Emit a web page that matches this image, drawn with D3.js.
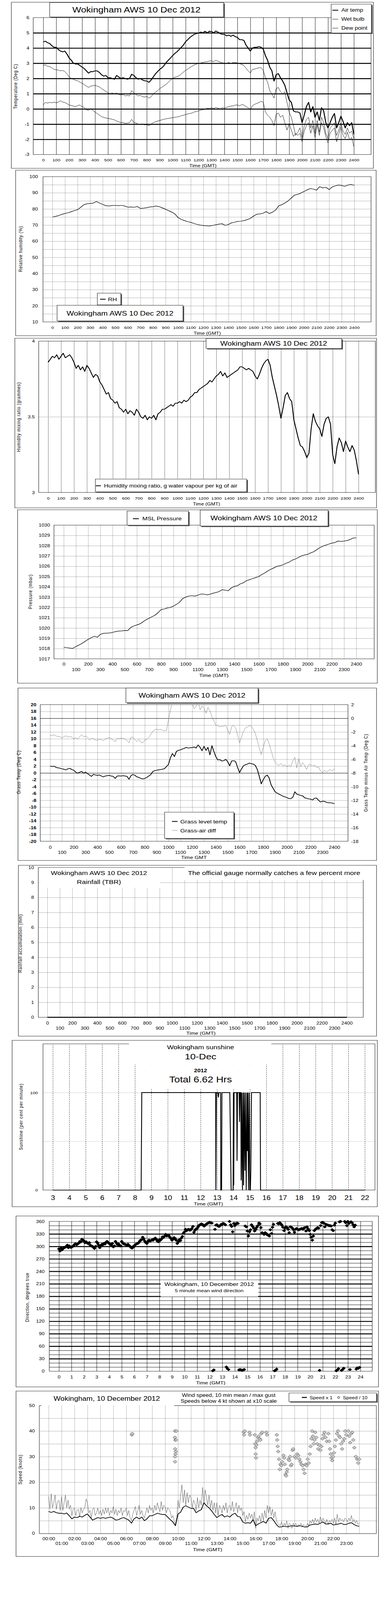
<!DOCTYPE html>
<html><head><meta charset="utf-8">
<script src="https://cdn.jsdelivr.net/npm/d3@7"></script>
<style>html,body{margin:0;padding:0;background:#fff;overflow:hidden}svg{display:block}</style>
</head><body>
<svg id="c"></svg>
<script>
// ---------------- DATA ----------------
const hhmmTicks=[0,100,200,300,400,500,600,700,800,900,1000,1100,1200,1300,1400,1500,1600,1700,1800,1900,2000,2100,2200,2300,2400];
const hourTicks=[0,1,2,3,4,5,6,7,8,9,10,11,12,13,14,15,16,17,18,19,20,21,22,23,24];
const hourLabels=["00:00","01:00","02:00","03:00","04:00","05:00","06:00","07:00","08:00","09:00","10:00","11:00","12:00","13:00","14:00","15:00","16:00","17:00","18:00","19:00","20:00","21:00","22:00","23:00"];
const sunHourTicks=[3,4,5,6,7,8,9,10,11,12,13,14,15,16,17,18,19,20,21,22];
const tempTicks=[-3,-2,-1,0,1,2,3,4,5,6];
const rhTicks=[10,20,30,40,50,60,70,80,90,100];
const mixTicks=[3,3.5,4];
const presTicks=[1017,1018,1019,1020,1021,1022,1023,1024,1025,1026,1027,1028,1029,1030];
const grassTicks=[-20,-18,-16,-14,-12,-10,-8,-6,-4,-2,0,2,4,6,8,10,12,14,16,18,20];
const diffTicks=[-18,-16,-14,-12,-10,-8,-6,-4,-2,0,2];
const rainTicks=[0,1,2,3,4,5,6,7,8,9,10];
const sunPctTicks=[0,100];
const dirTicks=[0,30,60,90,120,150,180,210,240,270,300,330,360];
const speedTicks=[0,10,20,30,40,50];

// 10-minute samples 00:00..24:00
const airTemp=[4.4,4.45,4.35,4.3,4.15,4.05, 4.05,3.9,3.8,3.75,3.8,3.6, 3.35,3.2,3.0,2.95,2.95,2.85, 2.75,2.65,2.5,2.35,2.45,2.45,
 2.5,2.5,2.4,2.25,2.15,2.2, 2.05,2.05,2.0,1.95,2.2,2.1, 2.0,2.05,2.0,1.95,2.0,2.28, 2.2,2.05,1.95,2.0,1.9,1.85,
 1.83,1.75,1.9,2.1,2.3,2.45, 2.6,2.7,2.85,3.05,3.2,3.35, 3.5,3.65,3.75,3.9,4.05,4.2, 4.42,4.55,4.7,4.8,4.9,4.95,
 4.98,5.05,5.0,5.1,5.0,5.1, 5.09,5.0,5.12,5.05,4.95,4.9, 4.9,4.8,4.85,4.77,4.85,4.75, 4.7,4.55,4.55,4.5,4.2,4.0,
 3.8,4.0,4.05,4.05,4.1,4.05, 3.93,3.5,3.2,2.74,2.5,1.83, 2.25,2.32,2.04,1.83,1.55,1.06, 0.6,0.43,-0.13,-0.2,-0.2,-0.27,
 -0.9,-0.4,0.15,0.43,-0.2,0.15, -0.55,-0.2,-0.76,0.08,-0.13,-0.9, -1.25,-0.9,-0.55,-0.3,-1.25,-0.9, -0.48,-0.83,-1.25,-0.9,-1.1,-0.9, -1.67];
const wetBulb=[2.85,2.9,2.8,2.78,2.7,2.6, 2.57,2.55,2.5,2.53,2.45,2.3, 2.11,2.0,1.95,1.87,1.85,1.75, 1.69,1.6,1.5,1.41,1.5,1.52,
 1.55,1.5,1.45,1.34,1.25,1.15, 1.06,1.0,1.05,0.99,1.05,0.95, 0.92,0.95,0.85,0.89,0.85,1.2, 1.06,0.95,0.85,0.89,0.8,0.78,
 0.82,0.71,0.8,0.99,1.1,1.2, 1.34,1.42,1.52,1.62,1.75,1.9, 2.01,2.08,2.12,2.18,2.3,2.42, 2.53,2.62,2.72,2.81,2.88,2.95,
 2.99,3.02,3.05,3.09,3.1,3.15, 3.16,3.1,3.2,3.13,3.08,3.02, 3.02,3.0,3.05,2.99,3.05,3.05, 3.02,2.98,2.92,2.85,2.67,2.5,
 2.36,2.6,2.62,2.67,2.7,2.71, 2.53,2.04,1.76,1.2,0.99,0.71, 1.34,1.41,1.13,0.99,1.13,0.43, -0.2,-0.55,-1.1,-1.74,-1.53,-1.25,
 -1.88,-1.1,-0.69,-0.55,-1.25,-0.76, -1.6,-0.76,-1.53,-0.55,-0.9,-1.6, -1.95,-1.25,-1.1,-0.9,-1.74,-1.39, -0.9,-1.46,-1.67,-1.25,-1.6,-1.46, -1.95];
const dewPoint=[0.26,0.43,0.38,0.43,0.4,0.45, 0.4,0.45,0.54,0.45,0.42,0.35, 0.26,0.22,0.19,0.15,0.22,0.26, 0.15,0.1,-0.06,-0.09,0.01,-0.1,
 -0.2,-0.3,-0.4,-0.51,-0.55,-0.6, -0.62,-0.65,-0.68,-0.72,-0.8,-0.85, -0.9,-0.88,-0.95,-0.93,-0.9,-0.69, -0.9,-0.92,-1.0,-1.0,-0.98,-1.05,
 -1.04,-1.1,-1.0,-0.9,-0.85,-0.8, -0.76,-0.72,-0.68,-0.65,-0.62,-0.6, -0.58,-0.55,-0.53,-0.51,-0.45,-0.42, -0.37,-0.33,-0.3,-0.27,-0.2,-0.17,
 -0.13,-0.08,-0.05,-0.02,0.05,0.02, 0.08,0.02,0.1,0.05,0.0,0.08, 0.05,0.1,0.15,0.19,0.2,0.25, 0.26,0.2,0.28,0.26,0.15,0.08,
 -0.06,0.22,0.3,0.36,0.42,0.5, 0.43,-0.2,-0.41,-0.55,-0.76,-1.1, -0.34,-0.27,-0.55,-0.41,-0.9,-1.39, -0.97,-1.39,-1.81,-1.6,-1.74,-1.6,
 -2.16,-1.46,-1.1,-0.9,-1.6,-1.1, -1.88,-1.04,-1.74,-0.9,-1.25,-1.81, -2.23,-1.6,-1.39,-1.25,-2.16,-1.67, -1.18,-1.74,-1.95,-1.53,-2.02,-1.88, -2.47];
// 15-minute samples
const relHum=[75.0,75.4,75.9,76.6,77.2,77.6,78.3,79.0,79.5,81.0,82.6,83.2,83.4,83.6,84.6,83.6,82.8,82.0,81.8,82.1,82.2,82.0,82.2,81.8,
 81.1,81.2,81.0,81.5,80.3,80.5,80.8,81.2,81.4,81.8,81.4,80.6,79.8,78.9,78.0,76.8,74.6,73.5,72.8,72.1,71.7,71.0,70.4,70.0,
 69.7,69.5,69.4,69.8,70.2,70.6,70.8,69.8,70.4,71.4,71.8,72.3,72.4,72.8,73.4,74.2,75.6,76.7,76.9,77.3,78.4,77.1,78.0,79.3,
 82.0,82.6,83.8,85.0,86.8,88.6,89.0,89.8,90.8,91.8,92.6,92.3,91.6,93.8,93.0,93.4,92.0,93.6,94.3,94.8,94.5,94.0,94.8,95.1,94.6];
const mixRatio=[3.86,3.88,3.90,3.89,3.91,3.88, 3.90,3.92,3.89,3.90,3.91,3.89, 3.86,3.82,3.84,3.81,3.83,3.80, 3.84,3.82,3.79,3.76,3.78,3.77,
 3.73,3.71,3.68,3.65,3.66,3.62, 3.61,3.59,3.60,3.56,3.55,3.53, 3.55,3.52,3.54,3.53,3.51,3.55, 3.53,3.50,3.49,3.51,3.48,3.50,
 3.49,3.51,3.48,3.52,3.53,3.55, 3.55,3.56,3.57,3.58,3.57,3.59, 3.59,3.60,3.59,3.61,3.60,3.61, 3.63,3.64,3.66,3.66,3.68,3.69,
 3.70,3.71,3.72,3.74,3.73,3.75, 3.77,3.78,3.80,3.77,3.79,3.76, 3.77,3.78,3.79,3.80,3.81,3.83, 3.83,3.82,3.81,3.82,3.81,3.80,
 3.77,3.75,3.78,3.82,3.85,3.87, 3.88,3.84,3.76,3.70,3.64,3.57, 3.49,3.56,3.64,3.66,3.62,3.60, 3.48,3.42,3.36,3.31,3.30,3.27,
 3.23,3.26,3.42,3.52,3.47,3.44, 3.42,3.37,3.45,3.49,3.50,3.45, 3.25,3.19,3.30,3.36,3.33,3.27, 3.34,3.30,3.27,3.31,3.28,3.21, 3.12];
const mslPressure=[1018.12,1018.1,1018.05,1018.02,1018.2,1018.35,1018.5,1018.7,1018.9,1019.05,1019.2,1019.1,1019.37,1019.48,1019.5,1019.52,
 1019.57,1019.65,1019.7,1019.72,1019.76,1019.75,1020.05,1020.2,1020.3,1020.4,1020.6,1020.8,1020.95,1021.1,1021.25,1021.5,
 1021.8,1021.85,1021.95,1022.0,1022.13,1022.3,1022.5,1022.85,1023.0,1023.1,1023.15,1023.1,1023.19,1023.3,1023.3,1023.22,
 1023.28,1023.38,1023.45,1023.55,1023.72,1023.68,1023.62,1023.9,1024.05,1024.1,1024.3,1024.4,1024.6,1024.7,1024.8,1024.9,
 1025.0,1025.2,1025.35,1025.55,1025.7,1025.85,1026.0,1026.05,1026.15,1026.3,1026.4,1026.6,1026.7,1026.85,1027.0,1027.1,
 1027.15,1027.3,1027.4,1027.6,1027.8,1027.95,1028.05,1028.15,1028.25,1028.3,1028.45,1028.42,1028.45,1028.5,1028.6,1028.75,1028.76];
const grassTemp=[2.0,1.9,2.0,1.65,1.5,1.4, 1.2,1.1,0.9,1.2,1.35,1.0, 0.8,0.25,-0.05,0.2,0.45,-0.05, 0.25,-0.2,-0.6,-1.0,-0.4,-0.6,
 -0.7,-0.6,-0.9,-1.15,-0.9,-0.8, -0.7,-0.9,-1.0,-1.6,-0.9,-0.85, -0.9,-0.8,-0.9,-1.0,-1.85,-0.8, -0.45,-0.7,-1.15,-1.3,-1.6,-1.75,
 -1.6,-1.3,-0.9,-0.5,0.4,0.65, 0.8,0.9,1.0,1.1,1.3,1.9, 2.5,4.5,5.7,4.8,6.3,6.6, 6.75,7.0,7.2,7.5,7.3,7.4,
 7.4,7.6,7.3,8.2,7.5,6.5, 7.8,6.6,7.5,5.3,8.0,6.3, 4.75,3.8,3.9,3.5,3.6,4.0, 3.3,2.1,3.5,3.6,3.35,1.65,
 0.1,1.2,2.1,2.4,2.6,2.9, 2.7,2.6,2.2,1.0,-1.0,-3.2, -2.0,-1.0,-0.6,-1.5,-3.5,-4.5, -5.5,-5.9,-6.2,-6.5,-6.8,-7.0,
 -7.2,-7.5,-7.5,-7.1,-5.5,-6.2, -6.4,-6.6,-6.7,-7.3,-7.4,-7.6, -7.65,-7.9,-7.4,-7.35,-8.0,-8.5, -8.3,-8.3,-8.6,-8.7,-8.75,-8.8, -9.0];
const grassAirDiff=[-2.45,-2.55,-2.4,-2.6,-2.65,-2.7, -2.85,-2.7,-2.55,-2.75,-2.65,-2.75, -3.0,-2.85,-3.05,-2.7,-2.4,-2.7, -2.6,-2.8,-3.2,-2.9,-3.0,-3.15,
 -3.25,-3.05,-3.1,-3.3,-3.0,-2.9, -2.8,-3.0,-3.2,-3.45,-2.9,-3.0, -2.9,-2.95,-3.0,-3.25,-3.6,-2.8, -2.75,-3.1,-3.4,-3.1,-3.5,-3.6,
 -3.2,-3.1,-2.8,-2.4,-1.9,-1.7, -1.6,-1.7,-1.6,-1.75,-1.85,-1.75, -0.2,1.25,2.5,3.0,3.25,3.5, 3.5,3.5,3.5,3.5,3.0,2.5,
 2.25,1.4,1.75,2.5,1.25,1.8, 1.5,0.75,1.6,1.1,0.25,-0.4, -1.0,-1.1,-1.25,-1.15,-1.2,-1.0, -1.75,-2.35,-1.2,-1.05,-1.4,-2.4,
 -3.6,-2.75,-1.9,-1.4,-1.25,-1.05, -1.2,-1.6,-2.25,-3.25,-4.4,-5.3, -4.25,-3.25,-3.0,-3.75,-4.75,-5.75, -6.4,-6.75,-6.9,-6.6,-7.0,-6.8,
 -7.1,-6.9,-7.05,-6.25,-5.7,-7.25, -5.9,-7.1,-6.5,-6.9,-7.5,-6.8, -6.75,-7.0,-6.85,-7.2,-7.1,-7.7, -7.95,-7.6,-7.85,-7.7,-7.5,-7.75, -7.35];
const rainAccum=[0,0];
const rainHour=[0,24];
const sunHour=[3,8.38,8.42,12.92,12.93,12.96,13.05,13.08,13.12,13.22,13.23,13.28,13.30,13.78,13.80,13.86,13.98,14.0,14.02,14.04,14.20,14.22,14.25,14.35,14.37,14.40,14.45,14.47,14.50,14.55,14.58,14.62,14.65,14.70,14.73,14.78,14.82,14.85,14.88,14.92,14.96,15.0,15.03,15.06,15.1,15.63,15.65,22];
const sunPct=[0,0,100,100,0,100,100,95,100,100,0,0,100,100,75,0,0,100,5,100,100,30,100,100,70,100,100,10,100,0,100,5,100,20,100,0,100,40,100,0,100,0,0,20,100,100,0,0];
const windDir=[[0.00,294],[0.08,289],[0.17,296],[0.25,292],[0.33,295],[0.42,297],[0.5,298],[0.58,300],[0.67,303],[0.75,297],[0.83,301],[0.92,298],
[1.0,298],[1.08,300],[1.17,301],[1.25,305],[1.33,306],[1.42,304],[1.5,306],[1.58,308],[1.67,312],[1.75,311],[1.83,317],[1.92,315],
[2.0,313],[2.08,309],[2.17,311],[2.25,308],[2.33,307],[2.42,309],[2.5,303],[2.58,301],[2.67,300],[2.75,298],[2.83,295],[2.92,300],
[3.0,311],[3.08,308],[3.17,303],[3.25,297],[3.33,302],[3.42,305],[3.5,304],[3.58,307],[3.67,306],[3.75,310],[3.83,312],[3.92,309],
[4.0,307],[4.08,305],[4.17,303],[4.25,307],[4.33,299],[4.42,301],[4.5,312],[4.58,308],[4.67,304],[4.75,306],[4.83,302],[4.92,301],
[5.0,312],[5.08,308],[5.17,306],[5.25,305],[5.33,304],[5.42,303],[5.5,305],[5.58,302],[5.67,300],[5.75,297],[5.83,296],[5.92,300],
[6.0,300],[6.08,304],[6.17,306],[6.25,307],[6.33,308],[6.42,312],[6.5,315],[6.58,316],[6.67,322],[6.75,318],[6.83,313],[6.92,309],
[7.0,307],[7.08,311],[7.17,315],[7.25,313],[7.33,314],[7.42,316],[7.5,315],[7.58,318],[7.67,320],[7.75,317],[7.83,313],[7.92,311],
[8.0,316],[8.08,315],[8.17,318],[8.25,323],[8.33,322],[8.42,325],[8.5,329],[8.58,325],[8.67,327],[8.75,326],[8.83,322],[8.92,319],
[9.0,315],[9.08,317],[9.17,321],[9.25,319],[9.33,315],[9.42,307],[9.5,311],[9.58,316],[9.67,314],[9.75,320],[9.83,324],[9.92,332],
[10.0,335],[10.08,341],[10.17,338],[10.25,340],[10.33,341],[10.42,339],[10.5,340],[10.58,343],[10.67,348],[10.75,334],[10.83,339],[10.92,342],
[11.0,343],[11.08,347],[11.17,351],[11.25,352],[11.33,354],[11.42,353],[11.5,350],[11.58,349],[11.67,352],[11.75,354],[11.83,355],[11.92,357],
[12.0,358],[12.08,357],[12.17,356],[12.25,1],[12.33,3],[12.42,341],[12.5,351],[12.58,352],[12.67,349],[12.75,348],[12.83,350],[12.92,353],
[13.0,353],[13.08,355],[13.17,354],[13.25,352],[13.33,10],[13.42,6],[13.5,4],[13.58,360],[13.67,352],[13.75,348],[13.83,335],[13.92,355],
[14.0,350],[14.08,353],[14.17,356],[14.25,355],[14.33,3],[14.42,4],[14.5,3],[14.58,2],[14.67,3],[14.75,4],[14.83,349],[14.92,347],
[15.0,337],[15.08,325],[15.17,335],[15.25,340],[15.33,352],[15.42,348],[15.5,344],[15.58,337],[15.67,341],[15.75,346],[15.83,350],[15.92,356],
[16.0,354],[16.08,345],[16.17,333],[16.25,331],[16.33,329],[16.42,333],[16.5,331],[16.58,328],[16.67,327],[16.75,325],[16.83,340],[16.92,331],
[17.0,346],[17.08,353],[17.17,1],[17.25,2],[17.33,5],[17.42,355],[17.5,354],[17.58,357],[17.67,354],[17.75,351],[17.83,346],[17.92,338],
[18.0,344],[18.08,347],[18.17,345],[18.25,341],[18.33,333],[18.42,347],[18.5,346],[18.58,344],[18.67,340],[18.75,334],[18.83,341],[18.92,343],
[19.0,341],[19.08,340],[19.17,341],[19.25,342],[19.33,343],[19.42,341],[19.5,344],[19.58,345],[19.67,337],[19.75,347],[19.83,342],[19.92,338],
[20.0,329],[20.08,322],[20.17,315],[20.25,325],[20.33,338],[20.42,341],[20.5,343],[20.58,345],[20.67,344],[20.75,2],[20.83,350],[20.92,357],
[21.0,358],[21.08,356],[21.17,347],[21.25,353],[21.33,352],[21.42,351],[21.5,350],[21.58,350],[21.67,349],[21.75,340],[21.83,338],[21.92,351],
[22.0,356],[22.08,1],[22.17,3],[22.25,6],[22.33,359],[22.42,360],[22.5,2],[22.58,4],[22.67,7],[22.75,360],[22.83,357],[22.92,350],
[23.0,360],[23.08,355],[23.17,4],[23.25,359],[23.33,357],[23.42,352],[23.5,347],[23.58,351],[23.67,5],[23.75,8],[23.83,7],[23.92,9]];
// 12-minute mean speed
const windMean=[8.6,8.2,8.6,8.1,7.9,7.9,7.6,8.0,6.9,5.7,6.4,6.2,6.7,6.4,7.1,7.6,6.4,5.2,5.7,6.2,5.9,6.2,5.9,6.2,6.4,
 5.9,5.2,5.4,5.9,6.2,5.7,5.2,4.0,5.7,6.4,5.7,6.4,5.0,5.7,6.9,6.9,7.4,7.9,7.6,7.4,7.4,6.4,5.4,4.5,3.0,
 7.6,8.3,10.3,10.8,10.3,9.8,9.8,8.1,8.8,9.3,12.0,10.8,10.0,8.8,7.4,6.2,6.9,7.4,6.4,6.9,6.4,7.4,7.9,6.7,6.4,
 4.5,4.0,4.2,4.0,5.4,3.0,3.7,4.2,4.7,4.0,5.9,6.2,5.0,3.5,2.5,2.6,2.8,2.6,2.8,3.0,2.9,2.8,3.0,2.8,2.5,
 2.6,3.3,3.5,3.7,3.5,4.0,4.5,3.7,3.7,4.0,3.3,3.5,3.7,4.0,3.5,3.5,4.0,4.2,3.5,3.0,2.8];
// 6-minute max gust
const windGust=[14.5,9.5,15.5,10,12,15,9.5,12.5,13,9, 14.5,9,12,15,10,13,9.5,11,7,9.5, 10,7,9,9.5,6.5,10,8,9.5,10,13.5,
 12,8,9,6,9.5,10,7,8,10,7.5, 9,7,9.5,7.5,10,8,10,7,9,8, 10.5,7.5,9.5,7,9,8,10,7,9,8.5,
 10,7,9,6,5,7.5,9,10.5,7,9, 11,7.5,9,7,6,8,10,8,11,9, 10,8,11,9,12,10,8.5,12.5,9,11,
 10.5,8,10,9.5,8.5,6,7,5,3.5,6, 13,10,15,19,12,17,11,16,12,15, 14,10,13,12,9,14,10,13,11,18,
 12,17,14,11,15,10,13,9,12,8, 12,7,11,10,8,11,9,12,8,10.5, 11,9,12.5,8.5,10,12,8,11,9,10,
 7,8.5,4.5,7,5.5,8,6,7.5,5,8.5, 2,6,5,7,4.5,8,5,9,6,11, 8,10.5,7,9.5,6,8.5,5,4,3.5,3,
 4.5,2.5,4,3,5,2,4,3.5,2,4, 3,4,2.5,3.5,3,4,2.5,3.5,3,2.5, 4,3,5,4,5.5,4,6,4.5,5.5,4,
 6.5,4.5,6,5,4,5.5,3.5,5,4.5,5.5, 4,6,3.5,7.5,4.5,6,5,5.5,4.5,6, 5.5,4.5,6,5,7,4.5,5.5,4,5,3.5, 4];
// speeds below 4 kt shown x10
const lowSpeedX10=[[6.43,38.5],[6.46,39],
[9.77,40],[9.76,37.5],[9.8,36.5],[9.78,33],[9.8,31],[9.77,30],[9.77,28],[9.88,40],[9.85,36.5],[9.83,32],
[15.07,39.5],[15.1,38.5],[15.15,40],[15.52,39.5],[15.56,38.5],
[15.93,38.5],[15.96,35],[15.99,33.5],[16.0,31],[16.02,29.5],[16.05,34.5],[16.1,36],[16.18,37.5],[16.24,38],[16.3,37],[16.37,36.5],[16.43,39],[16.5,39.5],
[16.82,39.5],[16.88,38.5],
[17.63,38.5],[17.66,36.5],[17.7,34],[17.74,32],[17.8,29],[17.86,25],[17.92,27],[17.98,26.5],[18.04,28],
[18.15,30.5],[18.2,29.5],[18.25,27],[18.3,23],[18.35,22.5],[18.4,24],[18.44,25],
[18.54,29],[18.6,28.5],[18.66,30],[18.72,26.5],[18.78,27],[18.85,32.5],[18.9,33],
[19.0,30],[19.1,29.5],[19.2,31],[19.3,30.5],[19.38,29],
[19.45,28],[19.53,27],[19.62,26.5],[19.7,25],[19.78,23.5],[19.86,27],[19.94,26.5],[20.02,29],[20.1,27.5],
[20.18,31],[20.24,34],[20.3,37],[20.36,40],[20.42,38],[20.48,35],[20.54,36.5],
[20.6,39.5],[20.68,37.5],[20.76,35],[20.84,33],[20.92,34.5],[21.0,32.5],[21.08,34],
[21.16,37],[21.24,38.5],[21.32,39.5],[21.4,37.5],[21.5,36],
[21.62,39],[21.68,36],[21.74,33],[21.8,31],[21.86,29.5],[21.92,28.5],[21.98,30],[22.05,31.5],
[22.12,34],[22.2,36.5],[22.28,39],[22.36,40],[22.44,38],[22.52,37.5],
[22.6,35],[22.68,33],[22.76,36],[22.84,37],[22.92,40],[23.0,38.5],
[23.16,40],[23.23,38],[23.3,35.5],[23.38,39],[23.46,39.5],[23.54,36.5],[23.62,33.5],
[23.74,30],[23.84,29],[23.92,27.5],[24.0,29]];

// ---------------- DRAWING ----------------
// The chart is laid out on a 1000x5000 canvas; the browser viewport may be shorter,
// so the drawing is fitted to the available height.
const FONT='"Liberation Sans", Arial, Helvetica, sans-serif';
const VIEW_H=Math.min(5000, window.innerHeight||5000);
const svg=d3.select("#c").attr("width",1000).attr("height",VIEW_H)
  .attr("viewBox","0 0 1000 5000").attr("preserveAspectRatio","none");
svg.append("rect").attr("width",1000).attr("height",5000).attr("fill","#fff");
const T10=d3.range(airTemp.length).map(i=>i/6);
const T15=d3.range(relHum.length).map(i=>i/4);
const T12=d3.range(windMean.length).map(i=>i/5);
const T6=d3.range(windGust.length).map(i=>i/10);

function rect(g,x0,y0,x1,y1,o={}){return g.append("rect").attr("x",x0).attr("y",y0).attr("width",x1-x0).attr("height",y1-y0)
  .attr("fill",o.fill||"none").attr("stroke",o.stroke||"none").attr("stroke-width",o.sw||1);}
function box(g,x0,y0,x1,y1){rect(g,x0+3,y0+3,x1+3,y1+3,{fill:"#555"});rect(g,x0,y0,x1,y1,{fill:"#fff",stroke:"#000"});}
function txt(g,x,y,s,size,o={}){return g.append("text").attr("x",x).attr("y",y).text(s).attr("font-family",FONT)
  .attr("font-size",size).attr("text-anchor",o.anchor||"middle").attr("font-weight",o.bold?"bold":null).attr("fill",o.fill||"#000");}
function ytitle(g,x,y,s){g.append("text").attr("transform",`translate(${x},${y}) rotate(-90)`).attr("text-anchor","middle")
  .attr("font-family",FONT).attr("font-size",13).attr("letter-spacing","1px").text(s);}
function vGrid(g,sc,vals,y0,y1,stroke,sw,dash){
  const ax=g.append("g").attr("transform",`translate(0,${y1})`).call(d3.axisBottom(sc).tickValues(vals).tickSize(-(y1-y0)).tickFormat(""));
  ax.select(".domain").remove();ax.selectAll("text").remove();
  ax.selectAll("line").attr("stroke",stroke).attr("stroke-width",sw).attr("stroke-dasharray",dash||null);}
function hGrid(g,sc,vals,x0,x1,stroke,sw,dash){
  const ax=g.append("g").attr("transform",`translate(${x0},0)`).call(d3.axisLeft(sc).tickValues(vals).tickSize(-(x1-x0)).tickFormat(""));
  ax.select(".domain").remove();ax.selectAll("text").remove();
  ax.selectAll("line").attr("stroke",stroke).attr("stroke-width",sw).attr("stroke-dasharray",dash||null);}
function xLab(g,sc,vals,yb,size,fmt,bold){
  const ax=g.append("g").attr("transform",`translate(0,${yb})`).call(d3.axisBottom(sc).tickValues(vals).tickSize(0).tickPadding(0).tickFormat(fmt||(d=>d)));
  ax.select(".domain").remove();ax.selectAll("line").remove();
  ax.attr("font-family",FONT).attr("font-size",size).attr("font-weight",bold?"bold":null);
  ax.selectAll("text").attr("dy",null).attr("y",0).attr("fill","#000");}
function yLab(g,sc,vals,xr,size,fmt,right,bold){
  const a=(right?d3.axisRight(sc):d3.axisLeft(sc)).tickValues(vals).tickSize(0).tickPadding(0).tickFormat(fmt||(d=>d));
  const ax=g.append("g").attr("transform",`translate(${xr},0)`).call(a);
  ax.select(".domain").remove();ax.selectAll("line").remove();
  ax.attr("font-family",FONT).attr("font-size",size).attr("font-weight",bold?"bold":null);
  ax.selectAll("text").attr("fill","#000");}
function path(g,data,xf,yf,stroke,sw,clip){
  const p=g.append("path").datum(data).attr("fill","none").attr("stroke",stroke).attr("stroke-width",sw).attr("stroke-linejoin","round")
   .attr("d",d3.line().x(xf).y(yf));
  if(clip)p.attr("clip-path",`url(#${clip})`);return p;}
function clipRect(id,x0,y0,x1,y1){svg.append("clipPath").attr("id",id).append("rect").attr("x",x0).attr("y",y0).attr("width",x1-x0).attr("height",y1-y0);}
const even=a=>a.filter((d,i)=>i%2===0), odd=a=>a.filter((d,i)=>i%2===1);
const diamond="M0,-5L5,0L0,5L-5,0Z";

// ===== Panel 1: Temperature =====
{
const g=svg.append("g");
rect(g,29,7,955,526,{stroke:"#000"});
const x=d3.scaleLinear().domain([0,2400]).range([110.6,905]);
const y=d3.scaleLinear().domain([-3,6]).range([483,55]);
vGrid(g,x,hhmmTicks,55,483,"#000",1);
hGrid(g,y,[-2,-1,0,1,2,3,4,5],85,949,"#000",3);
rect(g,85,55,949,483,{stroke:"#000"});
clipRect("c1",85,55,949,483);
path(g,dewPoint,(d,i)=>x(T10[i]*100),d=>y(d),"#000",1,"c1");
path(g,wetBulb,(d,i)=>x(T10[i]*100),d=>y(d),"#000",1,"c1");
path(g,airTemp,(d,i)=>x(T10[i]*100),d=>y(d),"#000",2.5,"c1");
yLab(g,y,tempTicks,75,13);
xLab(g,x,hhmmTicks,504,12);
txt(g,519,522,"Time (GMT)",13);
ytitle(g,44,270,"Temperature (Deg C)");
box(g,127,8,572,53);
txt(g,349,39,"Wokingham AWS 10 Dec 2012",24);
box(g,847,13,950,103);
[["Air temp",2.5],["Wet bulb",1],["Dew point",1]].forEach((e,i)=>{
  const yy=32+i*28;
  g.append("line").attr("x1",850).attr("x2",865).attr("y1",yy).attr("y2",yy).attr("stroke","#000").attr("stroke-width",e[1]);
  txt(g,873,yy+5,e[0],15,{anchor:"start"});
});
}
// ===== Panel 2: RH =====
{
const g=svg.append("g");
rect(g,40,532,962,1049,{stroke:"#000"});
const x=d3.scaleLinear().domain([0,2400]).range([134,906]);
const y=d3.scaleLinear().domain([10,100]).range([1006,552]);
vGrid(g,x,hhmmTicks,552,1006,"#000",1,"1,2");
hGrid(g,y,[15,20,25,30,35,40,45,50,55,60,65,70,75,80,85,90,95],110,949,"#000",1,"1,2");
rect(g,110,552,949,1006,{stroke:"#000"});
path(g,relHum,(d,i)=>x(T15[i]*100),d=>y(d),"#000",1.5);
yLab(g,y,rhTicks,97,13);
xLab(g,x,hhmmTicks,1028,12);
txt(g,530,1046,"Time (GMT)",13);
ytitle(g,57,778,"Relative humidity (%)");
box(g,249,916,309,953);
g.append("line").attr("x1",256).attr("x2",270).attr("y1",935).attr("y2",935).attr("stroke","#000").attr("stroke-width",2.5);
txt(g,276,941,"RH",16,{anchor:"start"});
box(g,146,954,468,1003);
txt(g,307,986,"Wokingham AWS 10 Dec 2012",20);
}
// ===== Panel 3: Mixing ratio =====
{
const g=svg.append("g");
rect(g,38,1057,963,1587,{stroke:"#000"});
const x=d3.scaleLinear().domain([0,2400]).range([123,917]);
const y=d3.scaleLinear().domain([3,4]).range([1539,1066]);
vGrid(g,x,hhmmTicks,1066,1539,"#000",1,"3,2");
hGrid(g,y,[3.5],99,960,"#000",1,"1,2");
rect(g,99,1066,960,1539,{stroke:"#000"});
path(g,mixRatio,(d,i)=>x(T10[i]*100),d=>y(d),"#000",2.3);
yLab(g,y,mixTicks,89,13);
xLab(g,x,hhmmTicks,1561,12);
txt(g,528,1580,"Time (GMT)",13);
ytitle(g,52,1303,"Humidity mixing ratio (grammes)");
box(g,527,1058,874,1089);
txt(g,700,1080,"Wokingham AWS 10 Dec 2012",20);
box(g,244,1497,631,1537);
g.append("line").attr("x1",245).attr("x2",258).attr("y1",1518).attr("y2",1518).attr("stroke","#000").attr("stroke-width",2.5);
txt(g,266,1523,"Humidity mixing ratio, g water vapour per kg of air",15.5,{anchor:"start"});
}
// ===== Panel 4: Pressure =====
{
const g=svg.append("g");
rect(g,45,1593,965,2135,{stroke:"#000"});
const x=d3.scaleLinear().domain([0,2400]).range([163,911]);
const y=d3.scaleLinear().domain([1017,1030]).range([2059,1641]);
vGrid(g,x,hhmmTicks,1641,2059,"#000",1,"1,2");
hGrid(g,y,presTicks.slice(1,-1),138,957,"#000",1,"1,2");
rect(g,138,1641,957,2059,{stroke:"#000"});
path(g,mslPressure,(d,i)=>x(T15[i]*100),d=>y(d),"#000",1.5);
yLab(g,y,presTicks,128,13);
xLab(g,x,even(hhmmTicks),2080,13);
xLab(g,x,odd(hhmmTicks),2097,13);
txt(g,547,2116,"Time (GMT)",14);
ytitle(g,82,1849,"Pressure (mbar)");
box(g,325,1597,482,1641);
g.append("line").attr("x1",340).attr("x2",355).attr("y1",1621).attr("y2",1621).attr("stroke","#000").attr("stroke-width",2.5);
txt(g,364,1626,"MSL Pressure",16,{anchor:"start"});
box(g,512,1594,839,1644);
txt(g,675,1626,"Wokingham AWS 10 Dec 2012",20);
}
// ===== Panel 5: Grass temperature =====
{
const g=svg.append("g");
rect(g,46,2150,963,2689,{stroke:"#000"});
const x=d3.scaleLinear().domain([0,2400]).range([128,855]);
const yL=d3.scaleLinear().domain([-20,20]).range([2629,2202]);
const yR=d3.scaleLinear().domain([-18,2]).range([2629,2202]);
vGrid(g,x,hhmmTicks,2202,2629,"#000",1,"1,2");
hGrid(g,yL,grassTicks.filter(v=>v>-20&&v<20&&v!==0&&v!==16),103,890,"#000",1,"1,2");
hGrid(g,yL,[0,16],103,890,"#000",1.3);
rect(g,103,2202,890,2629,{stroke:"#000"});
clipRect("c5",103,2202,890,2629);
path(g,grassAirDiff,(d,i)=>x(T10[i]*100),d=>yR(d),"#808080",1,"c5");
path(g,grassTemp,(d,i)=>x(T10[i]*100),d=>yL(d),"#000",2,"c5");
yLab(g,yL,grassTicks,93,13,null,false,true);
yLab(g,yR,diffTicks,898,13,null,true);
xLab(g,x,even(hhmmTicks),2652,13);
xLab(g,x,odd(hhmmTicks),2668,13);
txt(g,496,2684,"Time GMT",14);
ytitle(g,52,2413,"Grass Temp (Deg C)");
ytitle(g,940,2415,"Grass Temp minus Air Temp (Deg C)");
box(g,322,2150,660,2196);
txt(g,491,2180,"Wokingham AWS 10 Dec 2012",20);
box(g,421,2538,598,2620);
g.append("line").attr("x1",440).attr("x2",454).attr("y1",2567).attr("y2",2567).attr("stroke","#000").attr("stroke-width",2.5);
txt(g,461,2573,"Grass level temp",16,{anchor:"start"});
g.append("line").attr("x1",440).attr("x2",454).attr("y1",2595).attr("y2",2595).attr("stroke","#808080").attr("stroke-width",1);
txt(g,461,2601,"Grass-air diff",16,{anchor:"start"});
}
// ===== Panel 6: Rainfall =====
{
const g=svg.append("g");
rect(g,47,2704,963,3238,{stroke:"#000"});
const x=d3.scaleLinear().domain([0,2400]).range([121,887]);
const y=d3.scaleLinear().domain([0,10]).range([3179,2711]);
vGrid(g,x,hhmmTicks,2711,3179,"#000",1,"1,2");
hGrid(g,y,[1,2,3,4,5,6,7,8,9],98,929,"#000",1,"1,2");
rect(g,98,2711,929,3179,{stroke:"#000"});
path(g,rainAccum,(d,i)=>x(rainHour[i]*100),d=>y(d),"#000",3);
yLab(g,y,rainTicks,87,13);
xLab(g,x,even(hhmmTicks),3202,13);
xLab(g,x,odd(hhmmTicks),3218,13);
txt(g,514,3234,"Time (GMT)",14);
ytitle(g,56,2948,"Rainfall accumulation (mm)");
rect(g,99.5,2712,410,2774,{fill:"#fff"});
rect(g,472,2705,932,2750,{fill:"#fff"});
txt(g,253,2734,"Wokingham AWS 10 Dec 2012",18);
txt(g,253,2762,"Rainfall (TBR)",18);
txt(g,701,2734,"The official gauge normally catches a few percent more",18);
}
// ===== Panel 7: Sunshine =====
{
const g=svg.append("g");
rect(g,31,3251,965,3771,{stroke:"#000"});
const x=d3.scaleLinear().domain([3,22]).range([135,933]);
const y=d3.scaleLinear().domain([0,150]).range([3719,3262]);
vGrid(g,x,sunHourTicks,3262,3719,"#000",1,"3,3");
hGrid(g,y,[50,100],110,959,"#999",1,"1,1");
rect(g,110,3262,959,3719,{stroke:"#000"});
path(g,sunPct,(d,i)=>x(sunHour[i]),d=>y(d),"#000",2.2).attr("stroke-linejoin","miter");
yLab(g,y,sunPctTicks,97,12);
xLab(g,x,sunHourTicks,3750,19);
txt(g,533,3767,"Time (GMT)",14);
ytitle(g,58,3490,"Sunshine (per cent per minute)");
rect(g,330,3257,694,3327,{fill:"#fff"});
rect(g,348,3327,677,3404,{fill:"#fff"});
txt(g,513,3279,"Wokingham sunshine",18);
txt(g,513,3311,"10-Dec",25);
txt(g,513,3351,"2012",15,{bold:true});
txt(g,513,3383,"Total 6.62 Hrs",26);
}
// ===== Panel 8: Wind direction =====
{
const g=svg.append("g");
rect(g,41,3800,968,4334,{stroke:"#000"});
const x=d3.scaleLinear().domain([0,24]).range([150.7,921.8]);
const y=d3.scaleLinear().domain([0,360]).range([4285,3817]);
vGrid(g,x,hourTicks,3817,4285,"#000",1);
hGrid(g,y,d3.range(10,360,10).filter(v=>v%30!==0),126,952,"#000",1);
hGrid(g,y,[30,60,90,120,150,180,210,240,270,300,330],126,952,"#000",3);
rect(g,126,3817,952,4285,{stroke:"#000"});
yLab(g,y,dirTicks,114,13);
xLab(g,x,hourTicks,4308,13);
txt(g,539,4326,"Time (GMT)",14);
ytitle(g,74,4054,"Direction, degrees true");
rect(g,411,4000,660,4052,{fill:"#fff"});
txt(g,535,4018,"Wokingham,  10 December 2012",16);
txt(g,535,4038,"5 minute mean wind direction",13.5);
g.selectAll("path.wd").data(windDir).enter().append("path").attr("class","wd").attr("d",diamond)
 .attr("transform",d=>`translate(${x(d[0])},${y(d[1])})`).attr("fill","#000");
}
// ===== Panel 9: Wind speed =====
{
const g=svg.append("g");
rect(g,41,4347,968,4864,{stroke:"#000"});
const x=d3.scaleLinear().domain([0,24]).range([124.3,918.7]);
const y=d3.scaleLinear().domain([0,50]).range([4792,4392]);
vGrid(g,x,hourTicks,4392,4792,"#000",1,"1,2");
hGrid(g,y,[5,10,15,20,25,30,35,40,45],100,962,"#000",1,"1,2");
g.append("path").attr("d","M445,4392.5H962.5V4792.5H100.5V4392.5H106").attr("fill","none").attr("stroke","#000");
rect(g,101,4380,444,4391.5,{fill:"#fff"});
clipRect("c9",100,4392,962,4792);
path(g,windGust,(d,i)=>x(T6[i]),d=>y(d),"#555",1,"c9");
path(g,windMean,(d,i)=>x(T12[i]),d=>y(d),"#000",2,"c9");
g.selectAll("path.ls").data(lowSpeedX10).enter().append("path").attr("class","ls").attr("d",diamond)
 .attr("transform",d=>`translate(${x(d[0])},${y(d[1])})`).attr("fill","#c8c8c8").attr("stroke","#333").attr("stroke-width",0.8);
yLab(g,y,speedTicks,89,13);
xLab(g,x,even(hourTicks.slice(0,24)),4813,13,(d)=>hourLabels[d]);
xLab(g,x,odd(hourTicks.slice(0,24)),4828,13,(d)=>hourLabels[d]);
txt(g,531,4847,"Time (GMT)",14);
ytitle(g,56,4592,"Speed (knots)");
txt(g,273,4377,"Wokingham,  10 December 2012",19);
txt(g,585,4365,"Wind speed, 10 min mean / max gust",14.5);
txt(g,585,4383,"Speeds below 4 kt shown at x10 scale",14.5);
box(g,739,4353,963,4380);
g.append("line").attr("x1",772).attr("x2",785).attr("y1",4367).attr("y2",4367).attr("stroke","#000").attr("stroke-width",3);
txt(g,792,4372,"Speed x 1",13,{anchor:"start"});
g.append("path").attr("d","M0,-4L4,0L0,4L-4,0Z").attr("transform","translate(866,4367)").attr("fill","#c8c8c8").attr("stroke","#333");
txt(g,877,4372,"Speed / 10",13,{anchor:"start"});
}
</script>
</body></html>
